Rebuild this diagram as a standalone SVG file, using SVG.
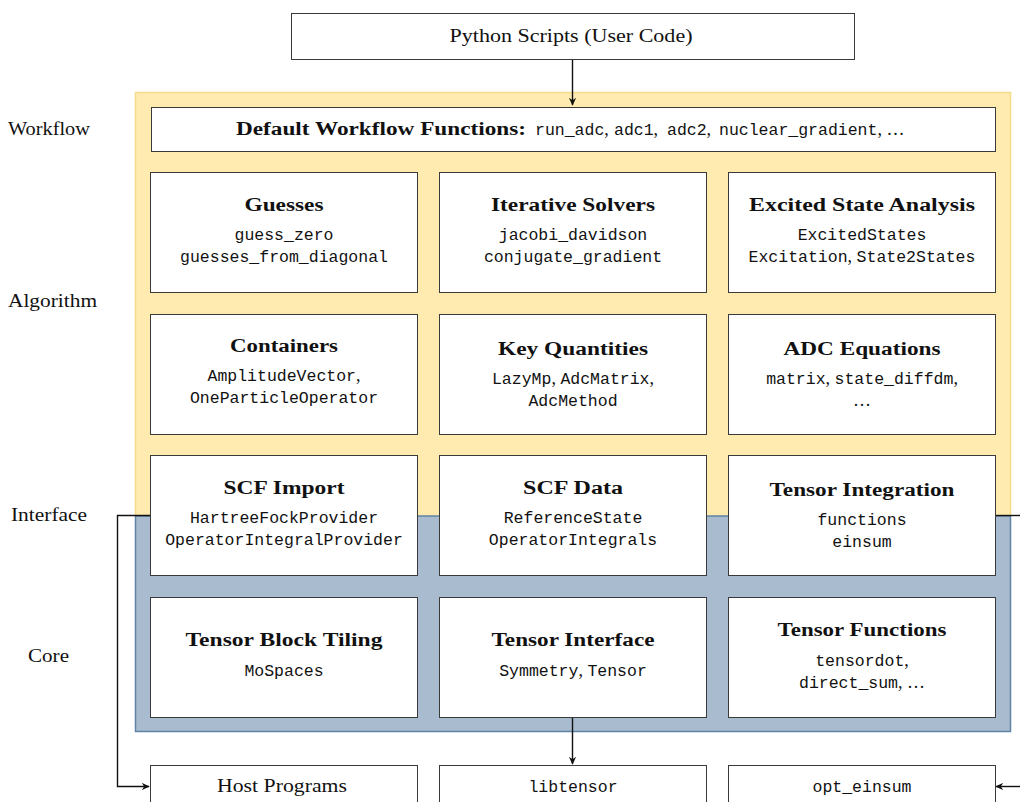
<svg xmlns="http://www.w3.org/2000/svg" width="1020" height="802" viewBox="0 0 1020 802">
  <style>
    .box { fill: #ffffff; stroke: #3a3a3a; stroke-width: 1; }
    .t { font-family: "Liberation Serif", "DejaVu Serif", serif; font-size: 18px; fill: #111; text-anchor: middle; }
    .b { font-weight: bold; font-size: 18.5px; }
    .lbl { font-family: "Liberation Serif", "DejaVu Serif", serif; font-size: 18px; fill: #111; }
    .m { font-family: "Liberation Mono", "DejaVu Sans Mono", monospace; font-size: 16.5px; }
    .wire { fill: none; stroke: #111; stroke-width: 1.4; }
  </style>
  <defs>
    <marker id="arrow" viewBox="0 0 10 10" refX="9" refY="5" markerWidth="8" markerHeight="8" markerUnits="userSpaceOnUse" orient="auto">
      <path d="M0,0.5 L10,5 L0,9.5 L3,5 z" fill="#111"/>
    </marker>
  </defs>

  <rect width="1020" height="802" fill="#ffffff"/>

  <!-- layer backgrounds -->
  <g id="layers">
    <rect x="135.5" y="92.5" width="875" height="424" fill="#ffebb0" stroke="#f4dc88" stroke-width="1.5"/>
    <rect x="135.5" y="516" width="875" height="215.5" fill="#a9bccf" stroke="#5f84a5" stroke-width="1.5"/>
  </g>

  <!-- layer labels -->
  <g id="labels">
    <text class="lbl" x="8" y="135" textLength="82" lengthAdjust="spacingAndGlyphs">Workflow</text>
    <text class="lbl" x="8" y="307" textLength="89" lengthAdjust="spacingAndGlyphs">Algorithm</text>
    <text class="lbl" x="11" y="521" textLength="76" lengthAdjust="spacingAndGlyphs">Interface</text>
    <text class="lbl" x="28" y="662" textLength="41" lengthAdjust="spacingAndGlyphs">Core</text>
  </g>

  <!-- connectors -->
  <g id="connectors">
    <path class="wire" d="M572.5,59 V105" marker-end="url(#arrow)"/>
    <path class="wire" d="M572.5,717 V764" marker-end="url(#arrow)"/>
    <path class="wire" d="M150,515.5 H117.5 V786.5 H149" marker-end="url(#arrow)"/>
    <path class="wire" d="M995,515.5 H1020"/>
    <path class="wire" d="M1020,786.5 H996" marker-end="url(#arrow)"/>
  </g>

  <g id="user-code">
    <rect class="box" x="291.5" y="13.5" width="563" height="46"/>
    <text class="t" x="571" y="42" textLength="243" lengthAdjust="spacingAndGlyphs">Python Scripts (User Code)</text>
  </g>

  <g id="workflow">
    <rect class="box" x="151.5" y="107.5" width="844" height="44"/>
    <text class="t" x="236" y="135" style="text-anchor:start"><tspan class="b" textLength="290" lengthAdjust="spacingAndGlyphs">Default Workflow Functions:</tspan><tspan class="m" x="535">run_adc</tspan>,<tspan class="m" x="614">adc1</tspan>,<tspan class="m" x="667">adc2</tspan>,<tspan class="m" x="719">nuclear_gradient</tspan>, …</text>
  </g>

  <g id="guesses">
    <rect class="box" x="150.5" y="172.5" width="267" height="120"/>
    <text class="t b" x="284" y="211" textLength="79" lengthAdjust="spacingAndGlyphs">Guesses</text>
    <text class="t m" x="284" y="240">guess_zero</text>
    <text class="t m" x="284" y="262">guesses_from_diagonal</text>
  </g>
  <g id="solvers">
    <rect class="box" x="439.5" y="172.5" width="267" height="120"/>
    <text class="t b" x="573" y="211" textLength="164" lengthAdjust="spacingAndGlyphs">Iterative Solvers</text>
    <text class="t m" x="573" y="240">jacobi_davidson</text>
    <text class="t m" x="573" y="262">conjugate_gradient</text>
  </g>
  <g id="analysis">
    <rect class="box" x="728.5" y="172.5" width="267" height="120"/>
    <text class="t b" x="862" y="211" textLength="226" lengthAdjust="spacingAndGlyphs">Excited State Analysis</text>
    <text class="t m" x="862" y="240">ExcitedStates</text>
    <text class="t" x="862" y="262"><tspan class="m">Excitation</tspan>, <tspan class="m">State2States</tspan></text>
  </g>

  <g id="containers">
    <rect class="box" x="150.5" y="314.5" width="267" height="120"/>
    <text class="t b" x="284" y="352" textLength="108" lengthAdjust="spacingAndGlyphs">Containers</text>
    <text class="t" x="284" y="381"><tspan class="m">AmplitudeVector</tspan>,</text>
    <text class="t m" x="284" y="403">OneParticleOperator</text>
  </g>
  <g id="key-quantities">
    <rect class="box" x="439.5" y="314.5" width="267" height="120"/>
    <text class="t b" x="573" y="355" textLength="150" lengthAdjust="spacingAndGlyphs">Key Quantities</text>
    <text class="t" x="573" y="384"><tspan class="m">LazyMp</tspan>, <tspan class="m">AdcMatrix</tspan>,</text>
    <text class="t m" x="573" y="406">AdcMethod</text>
  </g>
  <g id="adc-equations">
    <rect class="box" x="728.5" y="314.5" width="267" height="120"/>
    <text class="t b" x="862" y="355" textLength="157" lengthAdjust="spacingAndGlyphs">ADC Equations</text>
    <text class="t" x="862" y="384"><tspan class="m">matrix</tspan>, <tspan class="m">state_diffdm</tspan>,</text>
    <text class="t" x="862" y="406">…</text>
  </g>

  <g id="scf-import">
    <rect class="box" x="150.5" y="455.5" width="267" height="120"/>
    <text class="t b" x="284" y="494" textLength="121" lengthAdjust="spacingAndGlyphs">SCF Import</text>
    <text class="t m" x="284" y="523">HartreeFockProvider</text>
    <text class="t m" x="284" y="545">OperatorIntegralProvider</text>
  </g>
  <g id="scf-data">
    <rect class="box" x="439.5" y="455.5" width="267" height="120"/>
    <text class="t b" x="573" y="494" textLength="100" lengthAdjust="spacingAndGlyphs">SCF Data</text>
    <text class="t m" x="573" y="523">ReferenceState</text>
    <text class="t m" x="573" y="545">OperatorIntegrals</text>
  </g>
  <g id="tensor-integration">
    <rect class="box" x="728.5" y="455.5" width="267" height="120"/>
    <text class="t b" x="862" y="496" textLength="185" lengthAdjust="spacingAndGlyphs">Tensor Integration</text>
    <text class="t m" x="862" y="525">functions</text>
    <text class="t m" x="862" y="547">einsum</text>
  </g>

  <g id="block-tiling">
    <rect class="box" x="150.5" y="597.5" width="267" height="120"/>
    <text class="t b" x="284" y="646" textLength="197" lengthAdjust="spacingAndGlyphs">Tensor Block Tiling</text>
    <text class="t m" x="284" y="676">MoSpaces</text>
  </g>
  <g id="tensor-interface">
    <rect class="box" x="439.5" y="597.5" width="267" height="120"/>
    <text class="t b" x="573" y="646" textLength="163" lengthAdjust="spacingAndGlyphs">Tensor Interface</text>
    <text class="t" x="573" y="676"><tspan class="m">Symmetry</tspan>, <tspan class="m">Tensor</tspan></text>
  </g>
  <g id="tensor-functions">
    <rect class="box" x="728.5" y="597.5" width="267" height="120"/>
    <text class="t b" x="862" y="636" textLength="169" lengthAdjust="spacingAndGlyphs">Tensor Functions</text>
    <text class="t" x="862" y="666"><tspan class="m">tensordot</tspan>,</text>
    <text class="t" x="862" y="688"><tspan class="m">direct_sum</tspan>, …</text>
  </g>

  <g id="host-programs">
    <rect class="box" x="150.5" y="765.5" width="267" height="50"/>
    <text class="t" x="282" y="792" textLength="130" lengthAdjust="spacingAndGlyphs">Host Programs</text>
  </g>
  <g id="libtensor">
    <rect class="box" x="439.5" y="765.5" width="267" height="50"/>
    <text class="t m" x="573" y="792">libtensor</text>
  </g>
  <g id="opt-einsum">
    <rect class="box" x="728.5" y="765.5" width="267" height="50"/>
    <text class="t m" x="862" y="792">opt_einsum</text>
  </g>
</svg>
